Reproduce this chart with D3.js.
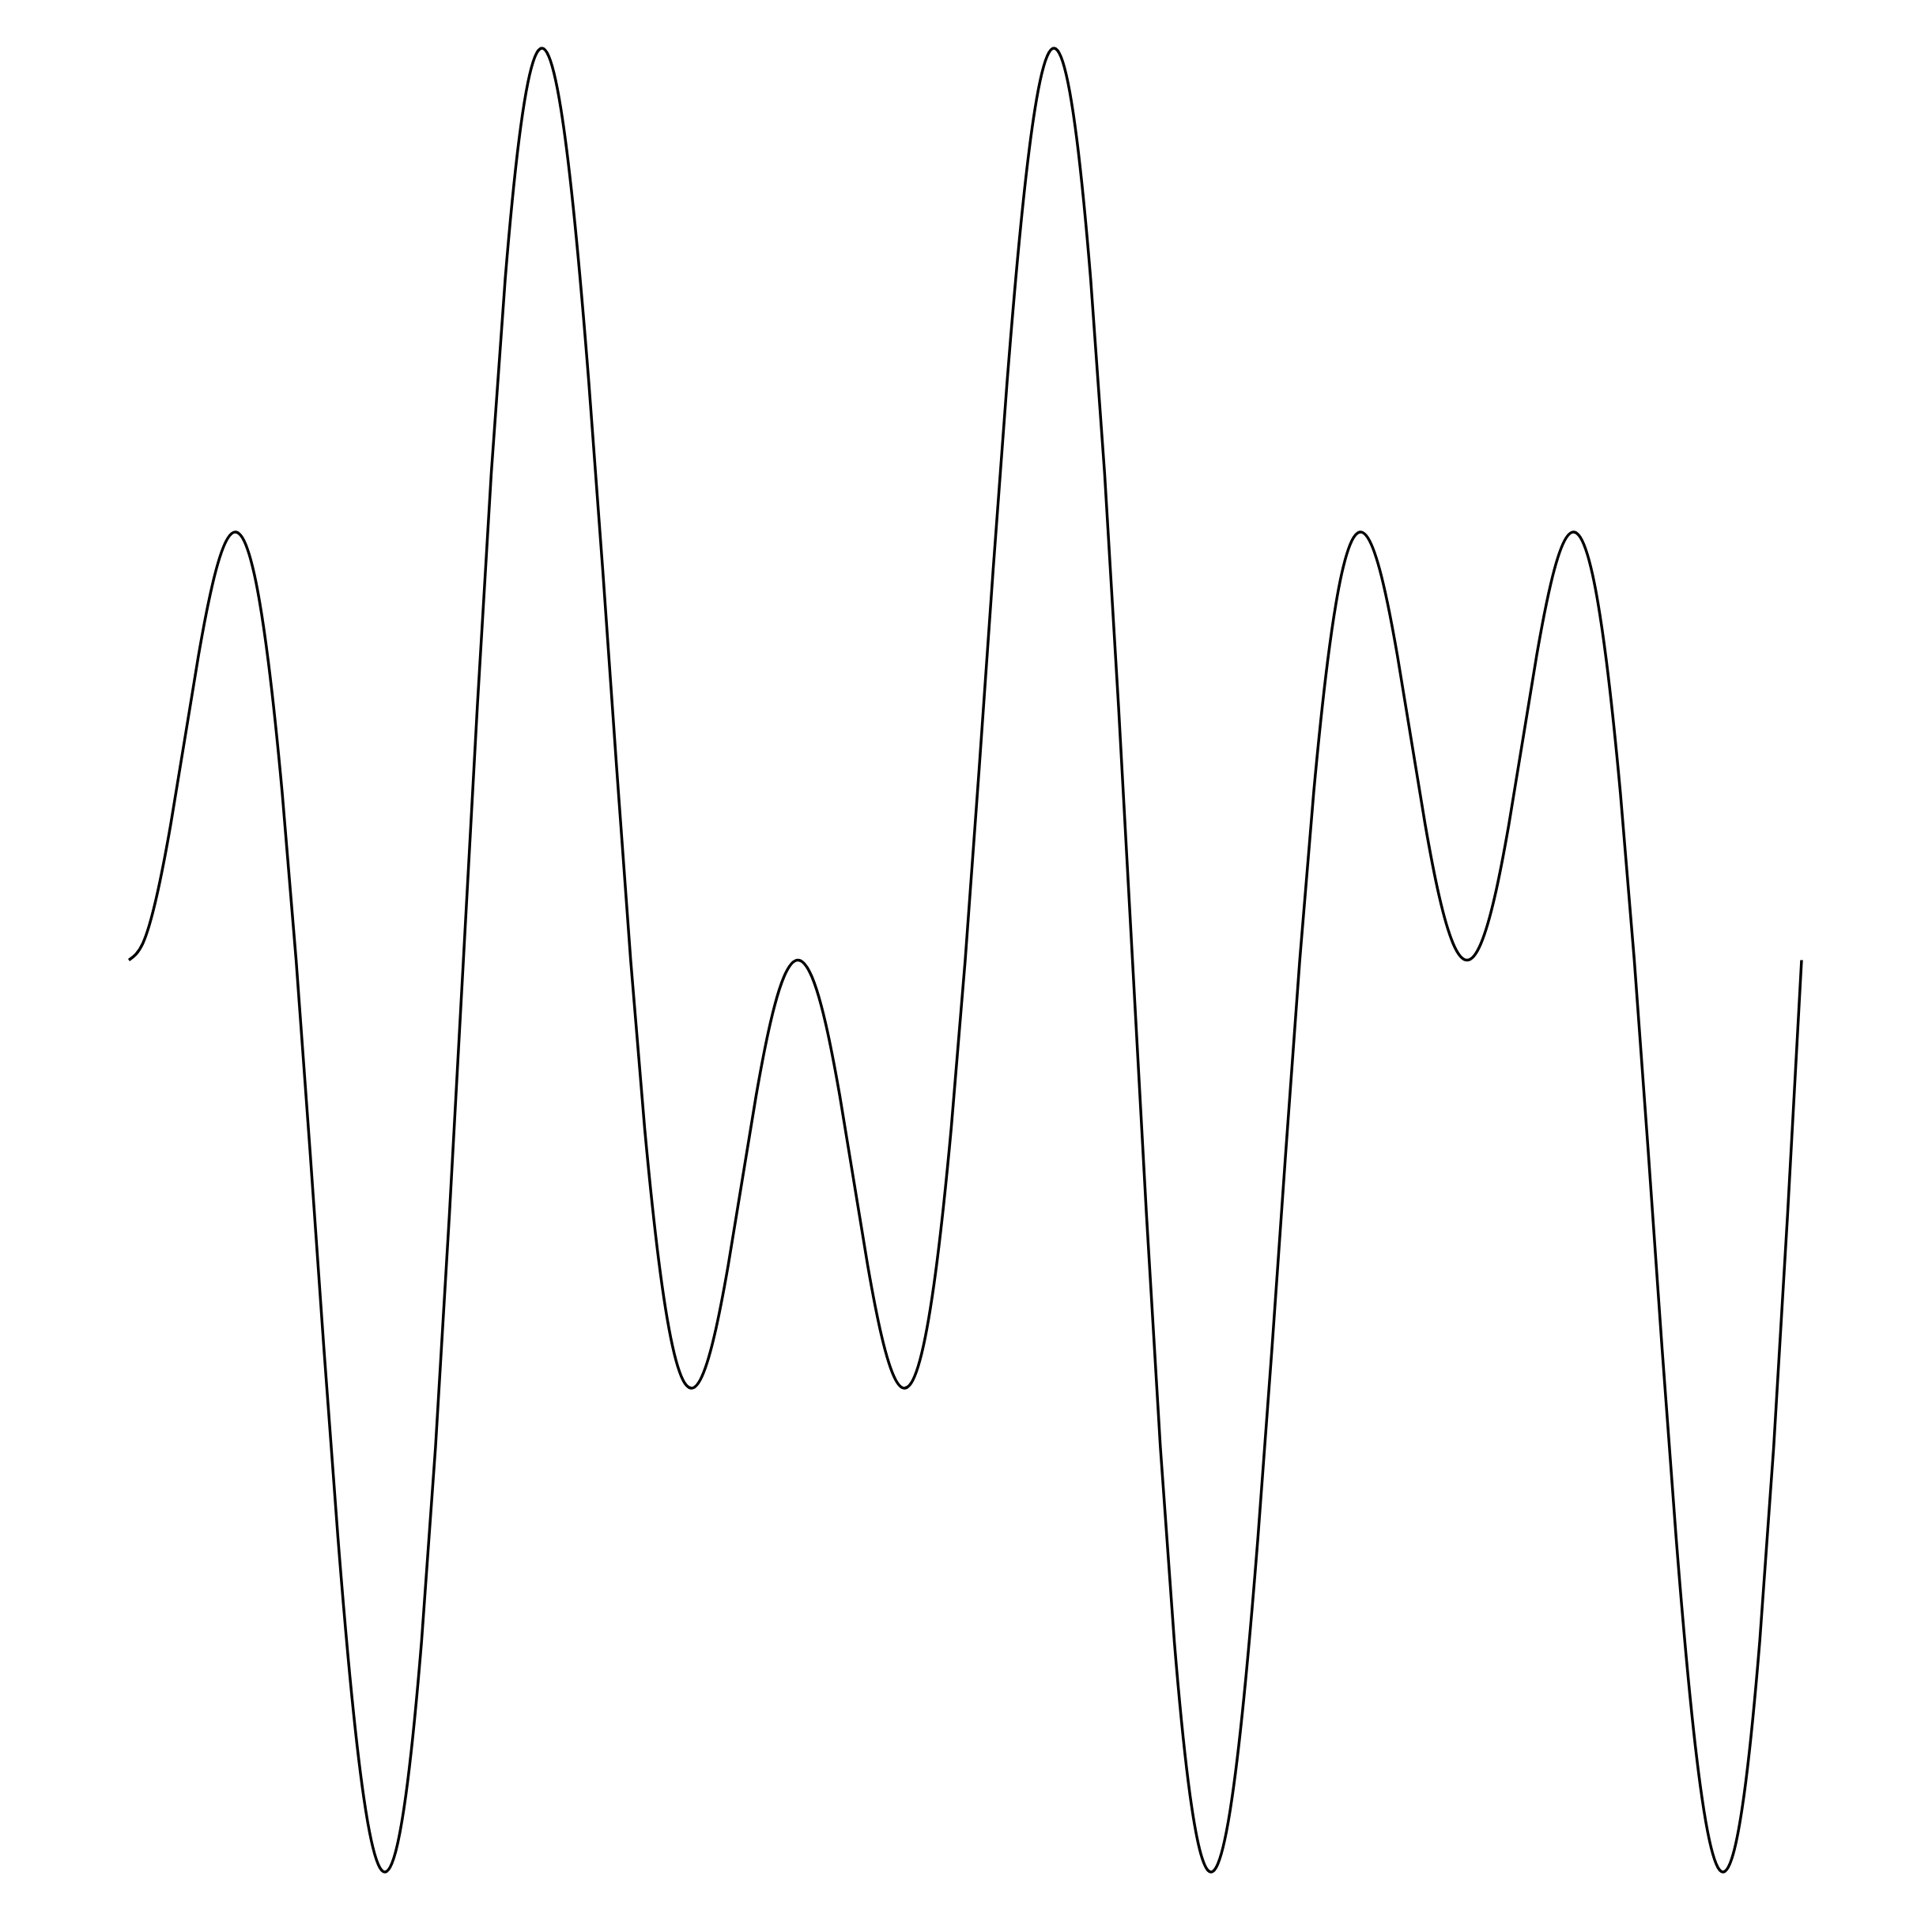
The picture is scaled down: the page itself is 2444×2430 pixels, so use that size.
<!DOCTYPE html>
<html>
<head>
<meta charset="utf-8">
<script src="https://cdn.jsdelivr.net/npm/d3@7"></script>
<style>
  html, body { margin: 0; padding: 0; background: #ffffff; }
  svg { display: block; }
</style>
</head>
<body>
<script>
// Sample positions along the horizontal axis (arbitrary units, evenly spaced)
const xValues = [
  0, 3.75, 7.5, 11.25, 15, 18.75, 22.5, 26.25, 30, 33.75, 37.5, 41.25,
  45, 48.75, 52.5, 56.25, 60, 63.75, 67.5, 71.25, 75, 78.75, 82.5, 86.25,
  90, 93.75, 97.5, 101.25, 105, 108.75, 112.5, 116.25, 120, 123.75, 127.5, 131.25,
  135, 138.75, 142.5, 146.25, 150, 153.75, 157.5, 161.25, 165, 168.75, 172.5, 176.25,
  180, 183.75, 187.5, 191.25, 195, 198.75, 202.5, 206.25, 210, 213.75, 217.5, 221.25,
  225, 228.75, 232.5, 236.25, 240, 243.75, 247.5, 251.25, 255, 258.75, 262.5, 266.25,
  270, 273.75, 277.5, 281.25, 285, 288.75, 292.5, 296.25, 300, 303.75, 307.5, 311.25,
  315, 318.75, 322.5, 326.25, 330, 333.75, 337.5, 341.25, 345, 348.75, 352.5, 356.25,
  360, 363.75, 367.5, 371.25, 375, 378.75, 382.5, 386.25, 390, 393.75, 397.5, 401.25,
  405, 408.75, 412.5, 416.25, 420, 423.75, 427.5, 431.25, 435, 438.75, 442.5, 446.25,
  450
];
// Curve values
const yValues = [
  0, 0.0339, 0.1305, 0.2759, 0.4483, 0.6210, 0.7654, 0.8544, 0.8660, 0.7857, 0.6088, 0.3413,
  0, -0.3892, -0.7934, -1.1759, -1.5, -1.7326, -1.8478, -1.8293, -1.6730, -1.3871, -0.9914, -0.5165,
  0, 0.5165, 0.9914, 1.3871, 1.6730, 1.8293, 1.8478, 1.7326, 1.5, 1.1759, 0.7934, 0.3892,
  0, -0.3413, -0.6088, -0.7857, -0.8660, -0.8544, -0.7654, -0.6210, -0.4483, -0.2759, -0.1305, -0.0339,
  0, -0.0339, -0.1305, -0.2759, -0.4483, -0.6210, -0.7654, -0.8544, -0.8660, -0.7857, -0.6088, -0.3413,
  0, 0.3892, 0.7934, 1.1759, 1.5, 1.7326, 1.8478, 1.8293, 1.6730, 1.3871, 0.9914, 0.5165,
  0, -0.5165, -0.9914, -1.3871, -1.6730, -1.8293, -1.8478, -1.7326, -1.5, -1.1759, -0.7934, -0.3892,
  0, 0.3413, 0.6088, 0.7857, 0.8660, 0.8544, 0.7654, 0.6210, 0.4483, 0.2759, 0.1305, 0.0339,
  0, 0.0339, 0.1305, 0.2759, 0.4483, 0.6210, 0.7654, 0.8544, 0.8660, 0.7857, 0.6088, 0.3413,
  0, -0.3892, -0.7934, -1.1759, -1.5, -1.7326, -1.8478, -1.8293, -1.6730, -1.3871, -0.9914, -0.5165,
  0
];

const W = 2444, H = 2430;
const margin = { left: 163, right: 165, top: 61, bottom: 62 };

const data = xValues.map((x, i) => ({ x, y: yValues[i] }));

const x = d3.scaleLinear()
  .domain(d3.extent(xValues))
  .range([margin.left, W - margin.right]);

const y = d3.scaleLinear()
  .domain([-1.857, 1.857])
  .range([H - margin.bottom, margin.top]);

const svg = d3.select("body").append("svg")
  .attr("width", W)
  .attr("height", H)
  .attr("viewBox", `0 0 ${W} ${H}`);

svg.append("rect").attr("width", W).attr("height", H).attr("fill", "#ffffff");

const line = d3.line()
  .x(d => x(d.x))
  .y(d => y(d.y))
  .curve(d3.curveNatural);

svg.append("path")
  .datum(data)
  .attr("fill", "none")
  .attr("stroke", "#000000")
  .attr("stroke-width", 3.5)
  .attr("d", line);
</script>
</body>
</html>
